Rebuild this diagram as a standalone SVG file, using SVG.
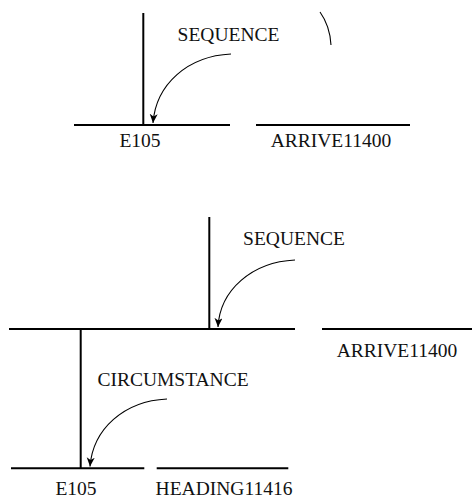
<svg xmlns="http://www.w3.org/2000/svg" width="472" height="500" viewBox="0 0 472 500">
<style>
.bar{stroke:#000;stroke-width:2;fill:none}
.arc{stroke:#000;stroke-width:1.1;fill:none}
.lbl{font-family:"Liberation Serif","Times New Roman",serif;font-size:19.5px;fill:#111;text-anchor:middle}
</style>
<defs>
<marker id="ah" markerWidth="10" markerHeight="10" refX="9" refY="4" orient="auto" markerUnits="userSpaceOnUse">
<path d="M0,0 L9,4 L0,8 L2.5,4 z" fill="#000"/>
</marker>
</defs>
<rect width="472" height="500" fill="#fff"/>
<g id="top-e105"><line class="bar" x1="74" y1="125" x2="230" y2="125"/><text class="lbl" x="140" y="147">E105</text></g>
<g id="top-arrive"><line class="bar" x1="256" y1="125" x2="410" y2="125"/><text class="lbl" x="331" y="147">ARRIVE11400</text></g>
<g id="top-seq"><line class="bar" x1="143.3" y1="13" x2="143.3" y2="125"/><text class="lbl" x="228.5" y="41">SEQUENCE</text></g>
<g id="mid-seq"><line class="bar" x1="209.3" y1="217" x2="209.3" y2="329"/><line class="bar" x1="9" y1="329" x2="295" y2="329"/><text class="lbl" x="294" y="245">SEQUENCE</text></g>
<g id="mid-arrive"><line class="bar" x1="322" y1="329" x2="472" y2="329"/><text class="lbl" x="397" y="357">ARRIVE11400</text></g>
<g id="circ"><line class="bar" x1="80.7" y1="329" x2="80.7" y2="468.3"/><text class="lbl" x="173" y="386">CIRCUMSTANCE</text></g>
<g id="bot-e105"><line class="bar" x1="11" y1="468.3" x2="144.3" y2="468.3"/><text class="lbl" x="76" y="495">E105</text></g>
<g id="bot-heading"><line class="bar" x1="156.7" y1="468.3" x2="288.3" y2="468.3"/><text class="lbl" x="224" y="495">HEADING11416</text></g>
<g id="connectors">
<path class="arc" d="M320,12 Q330,26 331,45"/>
<path class="arc" d="M231,54 C188,56 156,84 153,123" marker-end="url(#ah)"/>
<path class="arc" d="M295,260 C252,262 220,290 218,327" marker-end="url(#ah)"/>
<path class="arc" d="M167,399 C124,401 93,429 90,466.5" marker-end="url(#ah)"/>
</g>
</svg>
